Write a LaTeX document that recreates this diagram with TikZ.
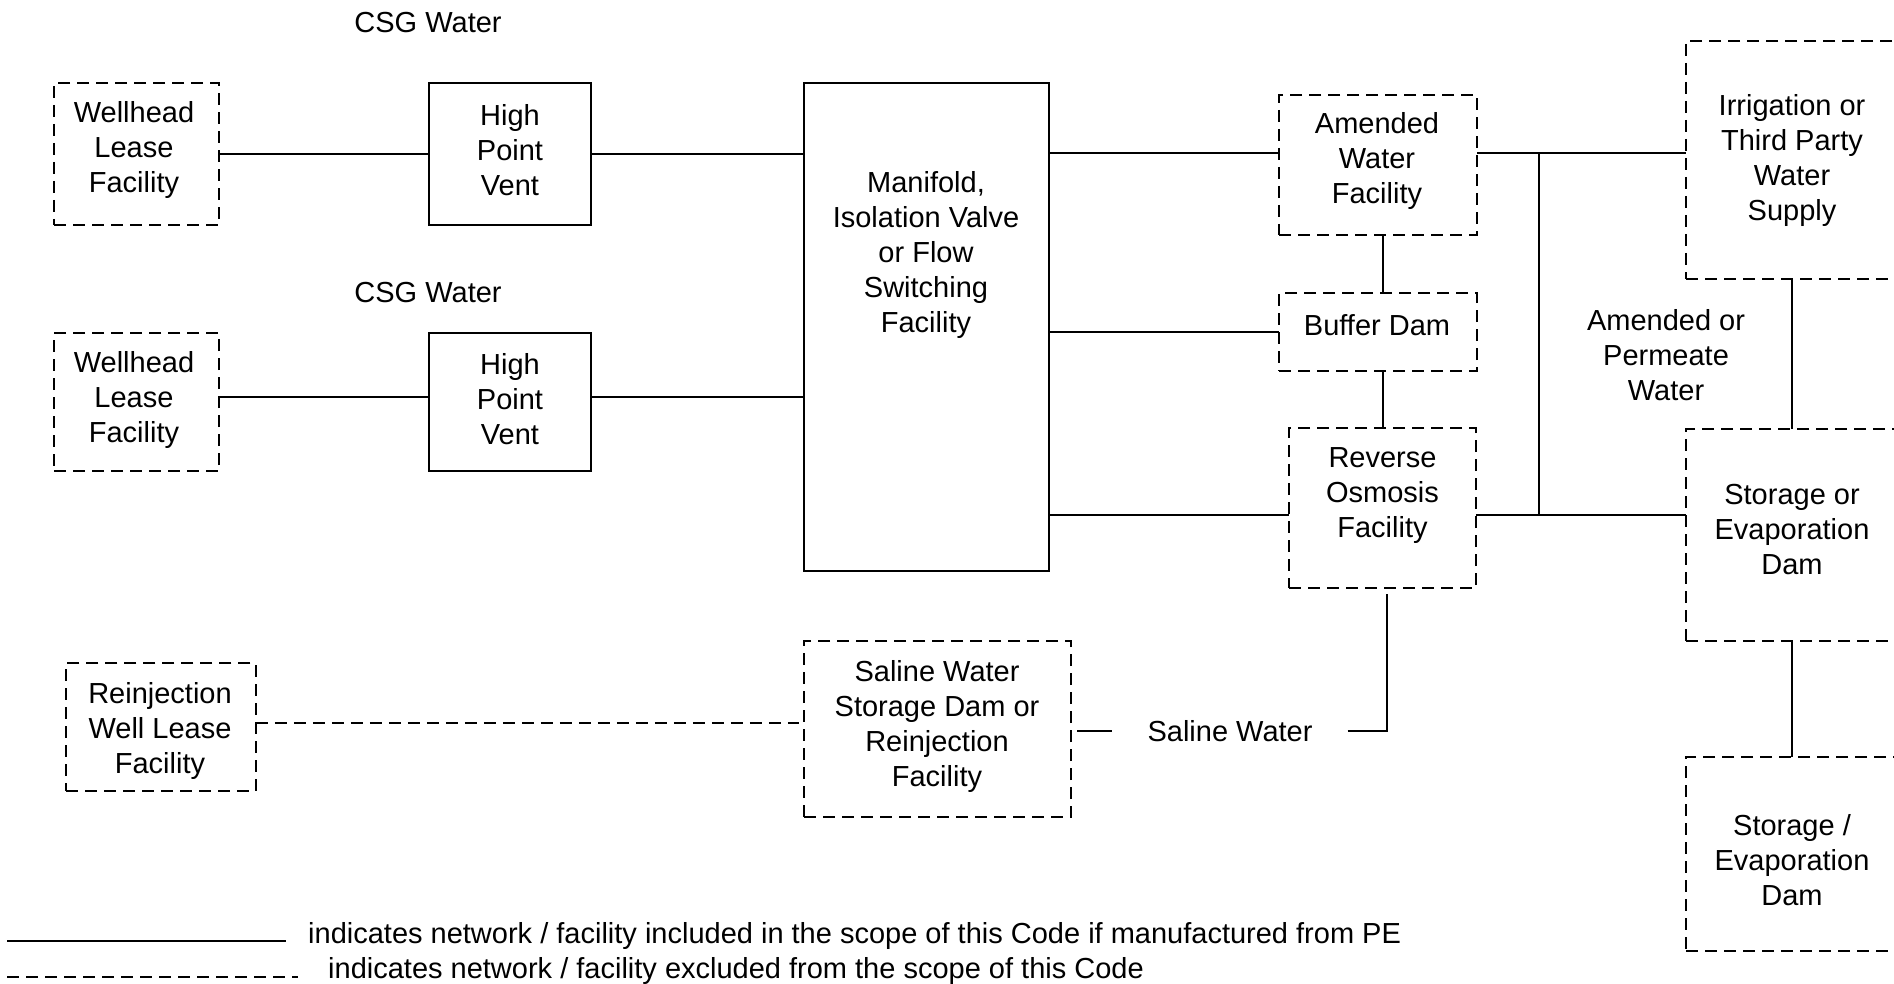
\documentclass[tikz,border=0pt]{standalone}
\usepackage{fontspec}
\setmainfont{Liberation Sans}
\usetikzlibrary{calc}
\begin{document}
\begin{tikzpicture}[x=1pt,y=-1pt,
  sbox/.style={draw, line width=2pt, rectangle, inner sep=0pt, outer sep=0pt},
  dbox/.style={sbox, dash pattern=on 12pt off 7pt},
  txt/.style={align=center, inner sep=0pt, font=\fontsize{29pt}{35pt}\selectfont},
  ln/.style={line width=2pt},
  dln/.style={ln, dash pattern=on 12pt off 7pt}]
\useasboundingbox (0,0) rectangle (1894,984);
\fill[white] (0,0) rectangle (1894,984);

% left column
\node[txt] (csg1) at (428,23) {CSG Water};
\node[dbox, minimum width=165pt, minimum height=142pt] (wh1) at (136.5,154) {};
\node[txt] (wh1t) at (134,150) {Wellhead\\Lease\\Facility};
\node[sbox, minimum width=162pt, minimum height=142pt] (hpv1) at (510,154) {};
\node[txt] (hpv1t) at (510,150) {High\\Point\\Vent};

\node[txt] (csg2) at (428,293) {CSG Water};
\node[dbox, minimum width=165pt, minimum height=138pt] (wh2) at (136.5,402) {};
\node[txt] (wh2t) at (134,399.5) {Wellhead\\Lease\\Facility};
\node[sbox, minimum width=162pt, minimum height=138pt] (hpv2) at (510,402) {};
\node[txt] (hpv2t) at (510,399.5) {High\\Point\\Vent};

% manifold
\node[sbox, minimum width=245pt, minimum height=488pt] (man) at (926,327) {};
\node[txt] (mant) at (926,255.5) {Manifold,\\Isolation Valve\\or Flow\\Switching\\Facility};

% middle-right column
\node[dbox, minimum width=198pt, minimum height=140pt] (amd) at (1378,165) {};
\node[txt] (amdt) at (1377,161) {Amended\\Water\\Facility};
\node[dbox, minimum width=198pt, minimum height=78pt] (buf) at (1378,332) {};
\node[txt] (buft) at (1377,325) {Buffer Dam};
\node[dbox, minimum width=187pt, minimum height=160pt] (ro) at (1382.5,508) {};
\node[txt] (rot) at (1382.5,495.5) {Reverse\\Osmosis\\Facility};

% right column
\node[dbox, minimum width=212pt, minimum height=238pt] (irr) at (1792,160) {};
\node[txt] (irrt) at (1792,161) {Irrigation or\\Third Party\\Water\\Supply};
\node[dbox, minimum width=212pt, minimum height=212pt] (st1) at (1792,535) {};
\node[txt] (st1t) at (1792,529.5) {Storage or\\Evaporation\\Dam};
\node[dbox, minimum width=212pt, minimum height=194pt] (st2) at (1792,854) {};
\node[txt] (st2t) at (1792,860) {Storage /\\Evaporation\\Dam};
\node[txt] (apw) at (1666,355.5) {Amended or\\Permeate\\Water};

% saline / reinjection
\node[dbox, minimum width=267pt, minimum height=176pt] (sal) at (937.5,729) {};
\node[txt] (salt) at (937,726) {Saline Water\\Storage Dam or\\Reinjection\\Facility};
\node[dbox, minimum width=189.5pt, minimum height=128pt] (rein) at (161,727) {};
\node[txt] (reint) at (160,730.5) {Reinjection\\Well Lease\\Facility};
\node[txt] (salw) at (1230,731) {Saline Water};

% connectors
\coordinate (jt) at (1538.5,153);
\coordinate (jb) at (1538.5,515);
\draw[ln] (wh1.east) -- (hpv1.west);
\draw[ln] (hpv1.east) -- (hpv1.east -| man.west);
\draw[ln] ($(wh2.east)+(0,-5)$) -- ($(hpv2.west)+(0,-5)$);
\draw[ln] ($(hpv2.east)+(0,-5)$) -- ($(hpv2.east -| man.west)+(0,-5)$);
\draw[ln] (man.east |- jt) -- (amd.west |- jt);
\draw[ln] (man.east |- buf.west) -- (buf.west);
\draw[ln] (man.east |- jb) -- (ro.west |- jb);
\draw[ln] (amd.east |- jt) -- (jt) -- (irr.west |- jt);
\draw[ln] (ro.east |- jb) -- (jb) -- (st1.west |- jb);
\draw[ln] (jt) -- (jb);
\draw[ln] (amd.south -| ro.north) -- (buf.north -| ro.north);
\draw[ln] (buf.south -| ro.north) -- (ro.north);
\draw[ln] (irr.south) -- (st1.north);
\draw[ln] (st1.south) -- (st2.north);
\draw[ln] ($(sal.east |- salw)+(6,0)$) -- ($(salw.west)+(-35,0)$);
\draw[ln] ($(salw.east)+(35,0)$) -| ($(ro.south)+(4,6)$);
\draw[dln] ($(rein.east)+(0,-4)$) -- ($(rein.east -| sal.west)+(-5,-4)$);

% legend
\coordinate (l1a) at (7,941);
\coordinate (l1b) at (286,941);
\coordinate (l2a) at (7,977);
\coordinate (l2b) at (298,977);
\draw[ln] (l1a) -- (l1b);
\draw[dln] (l2a) -- (l2b);
\node[txt, anchor=west] (leg1) at (308,936) {indicates network / facility included in the scope of this Code if manufactured from PE};
\node[txt, anchor=west] (leg2) at (328,971) {indicates network / facility excluded from the scope of this Code};
\end{tikzpicture}
\end{document}
